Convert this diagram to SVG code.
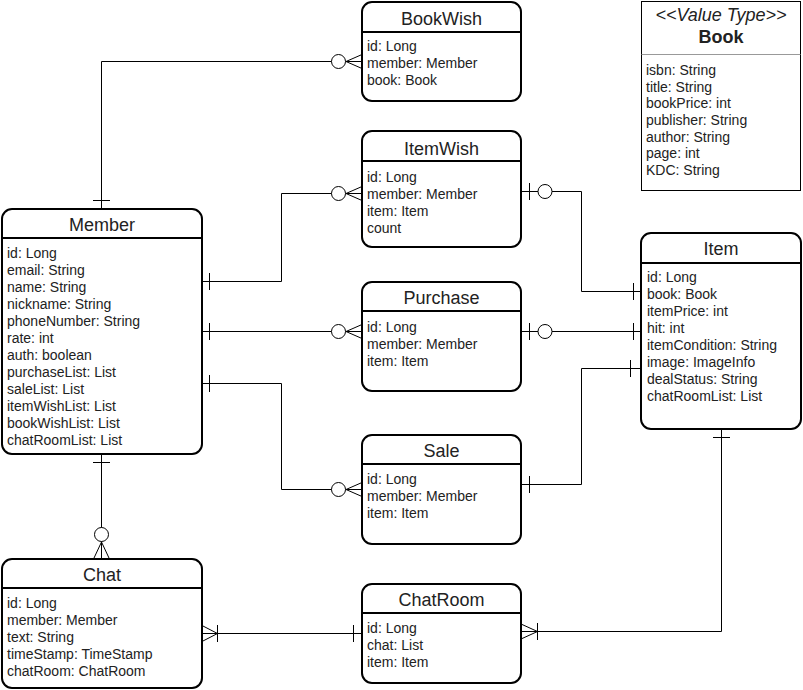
<svg xmlns="http://www.w3.org/2000/svg" width="803" height="690" viewBox="0 0 803 690">
<style>
.box{fill:#fff;stroke:#000;stroke-width:2}
.hdr{stroke:#000;stroke-width:2;fill:none}
.title{font-family:"Liberation Sans",Arial,sans-serif;font-size:18px;fill:#222;text-anchor:middle}
.f{font-family:"Liberation Sans",Arial,sans-serif;font-size:14px;fill:#222}
.ln{fill:none;stroke:#000;stroke-width:1}
.o{fill:#fff;stroke:#000;stroke-width:1}
</style>
<rect width="803" height="690" fill="#fff"/>
<g id="connectors">
  <!-- Member - BookWish -->
  <path class="ln" d="M101.5 208 V61.5 H362"/>
  <path class="ln" d="M93 200.5 H110"/>
  <path class="ln" d="M346 61.5 L362 54.5 M346 61.5 L362 68.5"/>
  <circle class="o" cx="338.5" cy="61.5" r="7"/>
  <!-- Member - ItemWish -->
  <path class="ln" d="M202 281.5 H281.5 V193.5 H362"/>
  <path class="ln" d="M209.5 273 V290"/>
  <path class="ln" d="M346 193.5 L362 186.5 M346 193.5 L362 200.5"/>
  <circle class="o" cx="338.5" cy="193.5" r="7"/>
  <!-- Member - Purchase -->
  <path class="ln" d="M202 331.5 H362"/>
  <path class="ln" d="M209.5 323 V340"/>
  <path class="ln" d="M346 331.5 L362 324.5 M346 331.5 L362 338.5"/>
  <circle class="o" cx="338.5" cy="331.5" r="7"/>
  <!-- Member - Sale -->
  <path class="ln" d="M202 383.5 H281.5 V489.5 H362"/>
  <path class="ln" d="M209.5 375 V392"/>
  <path class="ln" d="M346 489.5 L362 482.5 M346 489.5 L362 496.5"/>
  <circle class="o" cx="338.5" cy="489.5" r="7"/>
  <!-- ItemWish - Item -->
  <path class="ln" d="M521 191.5 H581.5 V291.5 H641"/>
  <path class="ln" d="M529.5 183 V200"/>
  <circle class="o" cx="545" cy="191.5" r="7"/>
  <path class="ln" d="M633.5 283 V300"/>
  <!-- Purchase - Item -->
  <path class="ln" d="M521 331.5 H641"/>
  <path class="ln" d="M529.5 323 V340"/>
  <circle class="o" cx="545" cy="331.5" r="7"/>
  <path class="ln" d="M633.5 323 V340"/>
  <!-- Sale - Item -->
  <path class="ln" d="M521 484.5 H581.5 V368.5 H641"/>
  <path class="ln" d="M529.5 476 V493"/>
  <path class="ln" d="M630.5 360 V377"/>
  <!-- Item - ChatRoom -->
  <path class="ln" d="M721.5 430 V631.5 H521"/>
  <path class="ln" d="M713 437.5 H730"/>
  <path class="ln" d="M537.5 623 V640"/>
  <path class="ln" d="M521 624 L537.5 631.5 L521 639"/>
  <!-- Chat - ChatRoom -->
  <path class="ln" d="M202 633.5 H362"/>
  <path class="ln" d="M202 625.5 L217.5 633.5 L202 641.5"/>
  <path class="ln" d="M217.5 625 V642"/>
  <path class="ln" d="M353.5 625 V642"/>
  <!-- Member - Chat -->
  <path class="ln" d="M101.5 455 V558"/>
  <path class="ln" d="M93 462.5 H110"/>
  <path class="ln" d="M94 558 L101.5 542 L109 558"/>
  <circle class="o" cx="101.5" cy="534.5" r="7"/>
</g>
<g id="BookWish">
  <rect class="box" x="362" y="2" width="159" height="99" rx="10"/>
  <path class="hdr" d="M362 32 H521"/>
  <text class="title" x="441.5" y="24.5">BookWish</text>
  <text class="f" x="367" y="51">id: Long</text>
  <text class="f" x="367" y="68">member: Member</text>
  <text class="f" x="367" y="85">book: Book</text>
</g>
<g id="ItemWish">
  <rect class="box" x="362" y="131" width="159" height="116" rx="10"/>
  <path class="hdr" d="M362 161 H521"/>
  <text class="title" x="441.5" y="154.5">ItemWish</text>
  <text class="f" x="367" y="182">id: Long</text>
  <text class="f" x="367" y="199">member: Member</text>
  <text class="f" x="367" y="216">item: Item</text>
  <text class="f" x="367" y="233">count</text>
</g>
<g id="Member">
  <rect class="box" x="2" y="209" width="200" height="245" rx="10"/>
  <path class="hdr" d="M2 238 H202"/>
  <text class="title" x="102" y="231">Member</text>
  <text class="f" x="7" y="258">id: Long</text>
  <text class="f" x="7" y="275">email: String</text>
  <text class="f" x="7" y="292">name: String</text>
  <text class="f" x="7" y="309">nickname: String</text>
  <text class="f" x="7" y="326">phoneNumber: String</text>
  <text class="f" x="7" y="343">rate: int</text>
  <text class="f" x="7" y="360">auth: boolean</text>
  <text class="f" x="7" y="377">purchaseList: List</text>
  <text class="f" x="7" y="394">saleList: List</text>
  <text class="f" x="7" y="411">itemWishList: List</text>
  <text class="f" x="7" y="428">bookWishList: List</text>
  <text class="f" x="7" y="445">chatRoomList: List</text>
</g>
<g id="Purchase">
  <rect class="box" x="362" y="282" width="159" height="109" rx="10"/>
  <path class="hdr" d="M362 311 H521"/>
  <text class="title" x="441.5" y="304">Purchase</text>
  <text class="f" x="367" y="332">id: Long</text>
  <text class="f" x="367" y="349">member: Member</text>
  <text class="f" x="367" y="366">item: Item</text>
</g>
<g id="Sale">
  <rect class="box" x="362" y="435" width="159" height="109" rx="10"/>
  <path class="hdr" d="M362 464 H521"/>
  <text class="title" x="441.5" y="457">Sale</text>
  <text class="f" x="367" y="484">id: Long</text>
  <text class="f" x="367" y="501">member: Member</text>
  <text class="f" x="367" y="518">item: Item</text>
</g>
<g id="Item">
  <rect class="box" x="641" y="233" width="160" height="196" rx="10"/>
  <path class="hdr" d="M641 263 H801"/>
  <text class="title" x="721" y="255">Item</text>
  <text class="f" x="647" y="282">id: Long</text>
  <text class="f" x="647" y="299">book: Book</text>
  <text class="f" x="647" y="316">itemPrice: int</text>
  <text class="f" x="647" y="333">hit: int</text>
  <text class="f" x="647" y="350">itemCondition: String</text>
  <text class="f" x="647" y="367">image: ImageInfo</text>
  <text class="f" x="647" y="384">dealStatus: String</text>
  <text class="f" x="647" y="401">chatRoomList: List</text>
</g>
<g id="Chat">
  <rect class="box" x="2" y="559" width="200" height="129" rx="10"/>
  <path class="hdr" d="M2 588 H202"/>
  <text class="title" x="102" y="581">Chat</text>
  <text class="f" x="7" y="608">id: Long</text>
  <text class="f" x="7" y="625">member: Member</text>
  <text class="f" x="7" y="642">text: String</text>
  <text class="f" x="7" y="659">timeStamp: TimeStamp</text>
  <text class="f" x="7" y="676">chatRoom: ChatRoom</text>
</g>
<g id="ChatRoom">
  <rect class="box" x="362" y="584" width="159" height="99" rx="10"/>
  <path class="hdr" d="M362 613 H521"/>
  <text class="title" x="441.5" y="606">ChatRoom</text>
  <text class="f" x="367" y="633">id: Long</text>
  <text class="f" x="367" y="650">chat: List</text>
  <text class="f" x="367" y="667">item: Item</text>
</g>
<g id="Book">
  <rect x="641.5" y="1.5" width="159" height="189" fill="#fff" stroke="#000" stroke-width="1"/>
  <path d="M641.5 54.5 H800.5" stroke="#999" stroke-width="1"/>
  <text class="title" x="721" y="21" font-style="italic" font-size="17">&lt;&lt;Value Type&gt;&gt;</text>
  <text class="title" x="721" y="43" font-weight="bold">Book</text>
  <text class="f" x="646" y="75">isbn: String</text>
  <text class="f" x="646" y="91.7">title: String</text>
  <text class="f" x="646" y="108.3">bookPrice: int</text>
  <text class="f" x="646" y="125">publisher: String</text>
  <text class="f" x="646" y="141.7">author: String</text>
  <text class="f" x="646" y="158.3">page: int</text>
  <text class="f" x="646" y="175">KDC: String</text>
</g>
</svg>
